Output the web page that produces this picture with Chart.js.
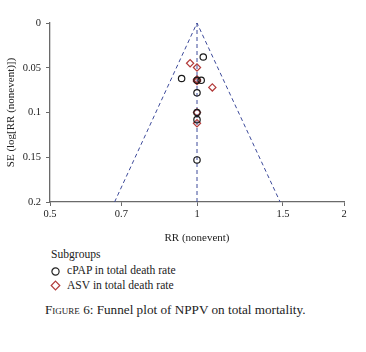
<!DOCTYPE html>
<html>
<head>
<meta charset="utf-8">
<script src="https://cdn.jsdelivr.net/npm/chart.js@4"></script>
<style>
  html,body{margin:0;padding:0;background:#fff;}
  body{width:366px;height:352px;position:relative;overflow:hidden;font-family:"Liberation Serif","DejaVu Serif",serif;color:#222;}
  #c{position:absolute;left:0;top:0;}
  .t{position:absolute;white-space:nowrap;font-size:11.6px;line-height:1;}
  .sc{font-variant:small-caps;}
</style>
</head>
<body>
<canvas id="c" width="366" height="245"></canvas>
<div class="t" style="left:51px;top:249px;">Subgroups</div>
<svg style="position:absolute;left:50px;top:266px" width="12" height="12"><circle cx="5.5" cy="5.5" r="3.6" fill="none" stroke="#222" stroke-width="1.2"/></svg>
<div class="t" style="left:67px;top:265px;">cPAP in total death rate</div>
<svg style="position:absolute;left:50px;top:280px" width="12" height="12"><polygon points="5.5,1.2 9.8,5.5 5.5,9.8 1.2,5.5" fill="none" stroke="#b23a3a" stroke-width="1.2"/></svg>
<div class="t" style="left:67px;top:280px;">ASV in total death rate</div>
<div class="t" style="left:45px;top:303px;font-size:13.2px;"><span class="sc">Figure</span> 6: Funnel plot of NPPV on total mortality.</div>
<script>
// Data
const xTicks = [0.5, 0.7, 1, 1.5, 2];
const yTicks = [0, 0.05, 0.1, 0.15, 0.2];
const cpapRR = [1.03, 0.93, 1.02, 1.0, 1.0, 1.0, 1.0, 1.0];
const cpapSE = [0.038, 0.062, 0.064, 0.064, 0.078, 0.100, 0.108, 0.153];
const asvRR = [0.968, 1.0, 1.0, 1.0, 1.0, 1.075, 1.0, 1.0];
const asvSE = [0.045, 0.0497, 0.063, 0.064, 0.065, 0.072, 0.100, 0.112];
const funnelRR = [0.678, 1, 1.48];
const funnelSE = [0.2, 0, 0.2];
const centerRR = [1, 1];
const centerSE = [0, 0.2];

const zip = (xs, ys) => xs.map((x, i) => ({x: x, y: ys[i]}));
const axisColor = '#6a6a6a';
const lineColor = '#3d4a9a';
const font = {family: '"Liberation Serif","DejaVu Serif",serif', size: 10.5};

new Chart(document.getElementById('c'), {
  type: 'scatter',
  data: {
    datasets: [
      {label: 'cPAP in total death rate', data: zip(cpapRR, cpapSE), pointStyle: 'circle', pointRadius: 3.2,
       borderColor: '#1a1a1a', backgroundColor: 'rgba(255,255,255,0)', pointBorderWidth: 1.2, order: 0},
      {label: 'ASV in total death rate', data: zip(asvRR, asvSE), pointStyle: 'rectRot', pointRadius: 3.6,
       borderColor: '#b23a3a', backgroundColor: 'rgba(255,255,255,0)', pointBorderWidth: 1.2, order: 0},
      {type: 'line', label: 'funnel', data: zip(funnelRR, funnelSE), borderColor: lineColor, borderWidth: 1,
       borderDash: [4, 3], pointRadius: 0, fill: false, tension: 0, order: 1},
      {type: 'line', label: 'center', data: zip(centerRR, centerSE), borderColor: lineColor, borderWidth: 1,
       borderDash: [4, 3], pointRadius: 0, fill: false, tension: 0, order: 1}
    ]
  },
  options: {
    responsive: false,
    animation: false,
    layout: {padding: {left: 0, right: 22, top: 23, bottom: 0}},
    plugins: {legend: {display: false}, tooltip: {enabled: false}},
    scales: {
      x: {
        type: 'logarithmic', min: 0.5, max: 2,
        afterBuildTicks: s => { s.ticks = xTicks.map(v => ({value: v})); },
        afterFit: s => { s.height = 43; },
        ticks: {color: '#222', font: font, padding: 2, callback: v => String(v), maxRotation: 0, autoSkip: false},
        grid: {display: true, drawOnChartArea: false, tickLength: 4, color: axisColor},
        border: {color: axisColor, width: 1.3},
        title: {display: true, text: 'RR (nonevent)', color: '#222', font: {family: font.family, size: 11}, padding: {top: 1, bottom: 0}}
      },
      y: {
        reverse: true, min: 0, max: 0.2,
        afterBuildTicks: s => { s.ticks = yTicks.map(v => ({value: v})); },
        afterFit: s => { s.width = 50; },
        ticks: {color: '#222', font: font, padding: 5, callback: v => String(v)},
        grid: {display: true, drawOnChartArea: false, tickLength: 4, color: axisColor},
        border: {color: axisColor, width: 1.3},
        title: {display: true, text: 'SE (log[RR (nonevent)])', color: '#222', font: {family: font.family, size: 11}, padding: {top: 5, bottom: 0}}
      }
    }
  }
});
</script>
</body>
</html>
